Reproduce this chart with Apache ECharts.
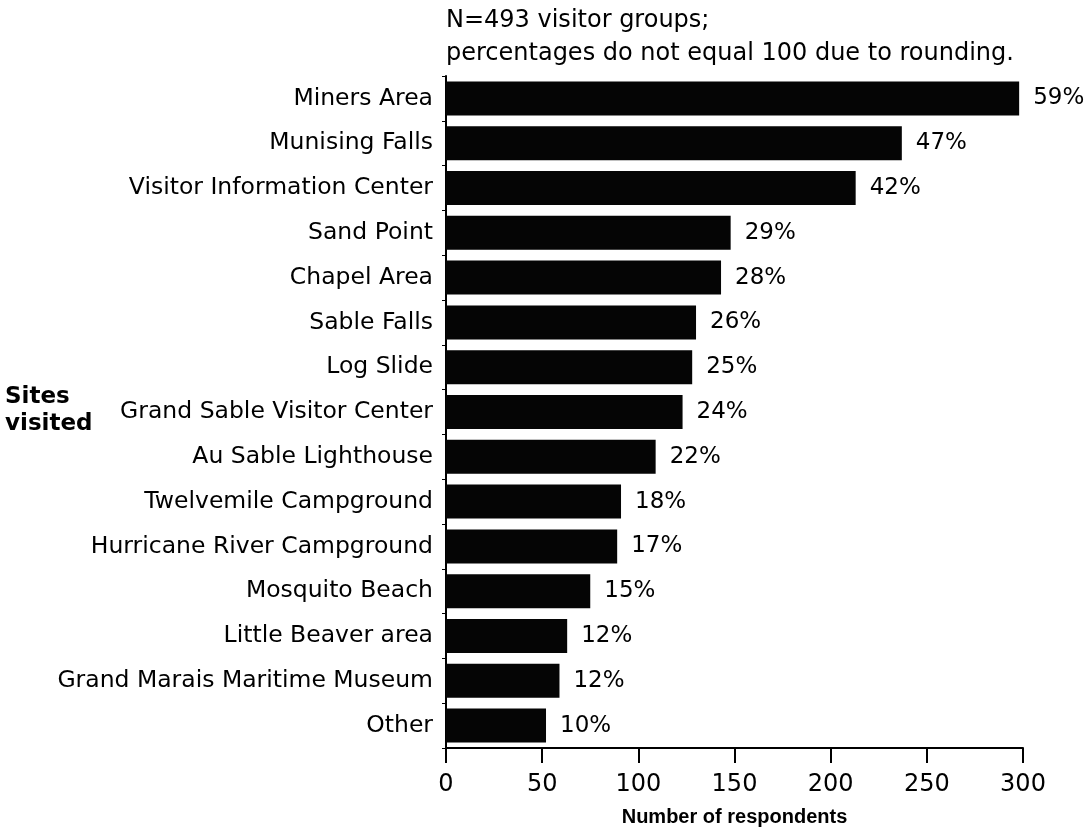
<!DOCTYPE html>
<html>
<head>
<meta charset="utf-8">
<script src="https://cdn.jsdelivr.net/npm/echarts@6/dist/echarts.min.js"></script>
<style>
html,body{margin:0;padding:0;background:#fff;}
#chart{width:1092px;height:833px;}
</style>
</head>
<body>
<div id="chart"></div>
<script>
const categories = [
  "Miners Area", "Munising Falls", "Visitor Information Center", "Sand Point",
  "Chapel Area", "Sable Falls", "Log Slide", "Grand Sable Visitor Center",
  "Au Sable Lighthouse", "Twelvemile Campground", "Hurricane River Campground",
  "Mosquito Beach", "Little Beaver area", "Grand Marais Maritime Museum", "Other"
];
const respondents = [298, 237, 213, 148, 143, 130, 128, 123, 109, 91, 89, 75, 63, 59, 52];
const percentLabels = ["59%", "47%", "42%", "29%", "28%", "26%", "25%", "24%", "22%", "18%", "17%", "15%", "12%", "12%", "10%"];
const xTicks = [0, 50, 100, 150, 200, 250, 300];
const noteLines = ["N=493 visitor groups;", "percentages do not equal 100 due to rounding."];
const axisTitle = "Number of respondents";
const sideTitle = "Sites\nvisited";

const FONT = "DejaVu Sans";
const chart = echarts.init(document.getElementById('chart'), null, {renderer: 'canvas'});
chart.setOption({
  backgroundColor: '#ffffff',
  animation: false,
  title: {
    text: noteLines.join('\n'),
    left: 441,
    top: -1,
    textStyle: {fontFamily: FONT, fontSize: 24, fontWeight: 'normal', color: '#000', lineHeight: 33}
  },
  graphic: [{
    type: 'text',
    left: 5,
    top: 384,
    style: {text: sideTitle, font: 'bold 23px "DejaVu Sans"', fill: '#000', lineHeight: 27}
  }],
  grid: {left: 446, right: 69, top: 76, bottom: 85, containLabel: false},
  xAxis: {
    type: 'value',
    min: xTicks[0],
    max: xTicks[xTicks.length - 1],
    interval: xTicks[1] - xTicks[0],
    name: axisTitle,
    nameLocation: 'middle',
    nameGap: 59,
    nameTextStyle: {fontFamily: 'Liberation Sans', fontWeight: 'bold', fontSize: 20, color: '#000'},
    axisLine: {show: true, lineStyle: {color: '#000', width: 2}},
    axisTick: {show: true, length: 15, lineStyle: {color: '#000', width: 2}},
    axisLabel: {margin: 25, fontFamily: FONT, fontSize: 24, color: '#000'},
    splitLine: {show: false}
  },
  yAxis: {
    type: 'category',
    data: categories,
    inverse: true,
    axisLine: {show: true, lineStyle: {color: '#000', width: 2}},
    axisTick: {show: true, length: 4, lineStyle: {color: '#000', width: 1}},
    axisLabel: {margin: 13, fontFamily: FONT, fontSize: 23.5, color: '#000'}
  },
  series: [{
    type: 'bar',
    data: respondents,
    barWidth: 34,
    itemStyle: {color: '#050505'},
    label: {
      show: true,
      position: 'right',
      distance: 14,
      fontFamily: FONT,
      fontSize: 23,
      color: '#000',
      formatter: p => percentLabels[p.dataIndex]
    }
  }]
});
</script>
</body>
</html>
